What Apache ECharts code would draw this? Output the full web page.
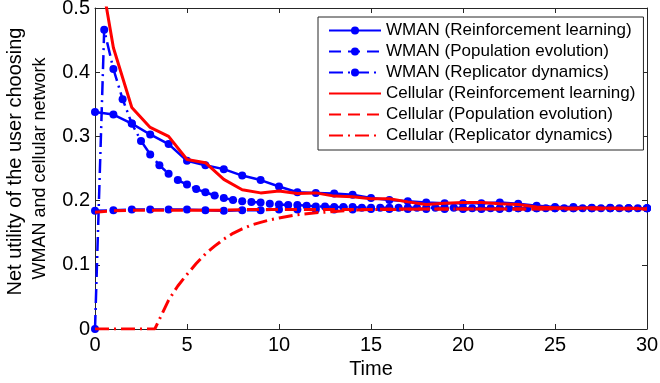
<!DOCTYPE html>
<html>
<head>
<meta charset="utf-8">
<script src="https://cdn.jsdelivr.net/npm/echarts@6/dist/echarts.min.js"></script>
<style>html,body{margin:0;padding:0;background:#fff;}#c{width:660px;height:383px;}</style>
</head>
<body>
<div id="c"></div>
<script>
// ---- data ----
const tInt = [0,1,2,3,4,5,6,7,8,9,10,11,12,13,14,15,16,17,18,19,20,21,22,23,24,25,26,27,28,29,30];
const tHalf = [0,0.5,1,1.5,2,2.5,3,3.5,4,4.5,5,5.5,6,6.5,7,7.5,8,8.5,9,9.5,10,10.5,11,11.5,12,12.5,13,13.5,14,14.5,15,
  15.5,16,16.5,17,17.5,18,18.5,19,19.5,20,20.5,21,21.5,22,22.5,23,23.5,24,24.5,25,25.5,26,26.5,27,27.5,28,28.5,29,29.5,30];
const tCellRD = [0,1,2,3,3.25,3.5,4,4.5,5,5.5,6,6.5,7,7.5,8,8.5,9,9.5,10,11,12,13,14,15,16,18,20,22,24,26,28,30];

const wmanRL = [0.338,0.334,0.320,0.303,0.288,0.262,0.255,0.249,0.239,0.232,0.222,0.213,0.212,0.211,0.209,0.204,0.201,0.199,0.197,0.196,0.196,0.196,0.197,0.195,0.192,0.190,0.190,0.189,0.189,0.188,0.188];
const wmanPE = [0.184,0.185,0.186,0.186,0.186,0.186,0.185,0.184,0.185,0.185,0.186,0.186,0.186,0.186,0.186,0.187,0.187,0.187,0.187,0.187,0.187,0.187,0.187,0.188,0.188,0.188,0.188,0.188,0.188,0.188,0.188];
const wmanRD = [0,0.466,0.405,0.358,0.320,0.293,0.272,0.255,0.242,0.232,0.225,0.218,0.213,0.208,0.204,0.201,0.199,0.198,0.197,0.195,0.194,0.193,0.193,0.192,0.191,0.191,0.190,0.190,0.190,0.189,0.189,
  0.189,0.189,0.189,0.189,0.189,0.189,0.189,0.189,0.189,0.188,0.188,0.188,0.188,0.188,0.188,0.188,0.188,0.188,0.188,0.188,0.188,0.188,0.188,0.188,0.188,0.188,0.188,0.188,0.188,0.188];
const cellRL = [0.605,0.438,0.345,0.314,0.300,0.264,0.259,0.233,0.217,0.212,0.215,0.211,0.212,0.207,0.206,0.203,0.203,0.198,0.194,0.196,0.197,0.197,0.195,0.194,0.190,0.189,0.188,0.189,0.188,0.188,0.187];
const cellPE = [0.182,0.184,0.185,0.185,0.185,0.185,0.185,0.185,0.186,0.186,0.186,0.186,0.186,0.186,0.186,0.186,0.187,0.187,0.187,0.187,0.187,0.187,0.187,0.187,0.187,0.188,0.188,0.188,0.188,0.188,0.188];
const cellRD = [0,0,0,0,0,0.015,0.045,0.067,0.085,0.102,0.117,0.129,0.140,0.149,0.156,0.162,0.166,0.170,0.173,0.178,0.181,0.183,0.185,0.186,0.186,0.187,0.187,0.187,0.187,0.187,0.187,0.187];

const names = ['WMAN (Reinforcement learning)','WMAN (Population evolution)','WMAN (Replicator dynamics)',
  'Cellular (Reinforcement learning)','Cellular (Population evolution)','Cellular (Replicator dynamics)'];
const xTicks = [0,5,10,15,20,25,30];
const yTicks = [0,0.1,0.2,0.3,0.4,0.5];
const yTitle1 = 'Net utility of the user choosing';
const yTitle2 = 'WMAN and cellular network';

// ---- chart ----
const zip = (xs, ys) => xs.map((x, i) => [x, ys[i]]);
const FONT = 'Liberation Sans, Arial, Helvetica, sans-serif';
const BLUE = '#0000ff', RED = '#ff0000', AX = '#262626';
const dashed = [12, 7];
const dashDot = [14, 5, 2, 5];

function axisCommon(extra) {
  return Object.assign({
    type: 'value',
    axisLine: { show: true, onZero: false, lineStyle: { color: AX, width: 1 } },
    axisTick: { show: true, inside: true, length: 5, lineStyle: { color: AX } },
    splitLine: { show: false }
  }, extra);
}

const chart = echarts.init(document.getElementById('c'), null, { renderer: 'canvas' });
chart.setOption({
  animation: false,
  backgroundColor: '#fff',
  grid: { left: 95, right: 13, top: 8, bottom: 54, outerBoundsMode: 'none', containLabel: false },
  xAxis: [
    axisCommon({ min: 0, max: 30, interval: 5, name: 'Time', nameLocation: 'middle', nameGap: 30,
      nameTextStyle: { fontFamily: FONT, fontSize: 20, color: '#000' },
      axisLabel: { fontFamily: FONT, fontSize: 20, color: '#000', margin: 6, formatter: v => xTicks.includes(v) ? String(v) : '' } }),
    axisCommon({ min: 0, max: 30, interval: 5, position: 'top', axisLabel: { show: false } })
  ],
  yAxis: [
    axisCommon({ min: 0, max: 0.5, interval: 0.1, name: yTitle2,
      nameLocation: 'middle', nameGap: 46, nameRotate: 90,
      nameTextStyle: { fontFamily: FONT, fontSize: 18, color: '#000' },
      axisLabel: { fontFamily: FONT, fontSize: 20, color: '#000', margin: 5,
        formatter: v => { const r = Math.round(v * 10) / 10; return yTicks.includes(r) ? (r === 0 ? '0' : r.toFixed(1)) : ''; } } }),
    axisCommon({ min: 0, max: 0.5, interval: 0.1, position: 'right', axisLabel: { show: false } }),
    { type: 'value', min: 0, max: 0.5, position: 'left', axisLine: { show: false }, axisTick: { show: false },
      axisLabel: { show: false }, splitLine: { show: false },
      name: yTitle1, nameLocation: 'middle', nameGap: 70, nameRotate: 90,
      nameTextStyle: { fontFamily: FONT, fontSize: 20, color: '#000', padding: [0, 0, 0, 14] } }
  ],
  legend: {
    orient: 'vertical', left: 318, top: 17,
    backgroundColor: '#fff', borderColor: AX, borderWidth: 1,
    padding: [5, 8, 6, 10],
    itemWidth: 52, itemHeight: 10, itemGap: 4,
    textStyle: { fontFamily: FONT, fontSize: 17, color: '#000', lineHeight: 17 },
    data: names.map((n, i) => i < 3 ? { name: n } : { name: n, itemStyle: { opacity: 0 } })
  },
  series: [
    { name: names[0], type: 'line', data: zip(tInt, wmanRL), symbol: 'circle', symbolSize: 8,
      lineStyle: { color: BLUE, width: 2.5 }, itemStyle: { color: BLUE }, z: 2 },
    { name: names[1], type: 'line', data: zip(tInt, wmanPE), symbol: 'circle', symbolSize: 8,
      lineStyle: { color: BLUE, width: 2.5, type: dashed }, itemStyle: { color: BLUE }, z: 2 },
    { name: names[2], type: 'line', data: zip(tHalf, wmanRD), symbol: 'circle', symbolSize: 8,
      lineStyle: { color: BLUE, width: 2.5, type: dashDot }, itemStyle: { color: BLUE }, z: 2 },
    { name: names[3], type: 'line', data: zip(tInt, cellRL), symbol: 'none', showSymbol: false,
      lineStyle: { color: RED, width: 3 }, itemStyle: { color: RED }, z: 3 },
    { name: names[4], type: 'line', data: zip(tInt, cellPE), symbol: 'none', showSymbol: false,
      lineStyle: { color: RED, width: 3, type: dashed }, itemStyle: { color: RED }, z: 3 },
    { name: names[5], type: 'line', data: zip(tCellRD, cellRD), symbol: 'none', showSymbol: false,
      lineStyle: { color: RED, width: 3, type: dashDot }, itemStyle: { color: RED }, z: 3 }
  ]
});
</script>
</body>
</html>
